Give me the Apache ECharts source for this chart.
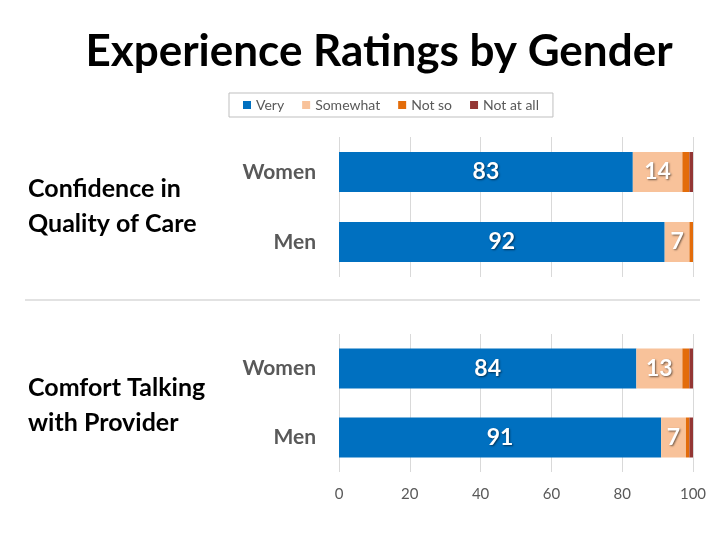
<!DOCTYPE html>
<html><head><meta charset="utf-8">
<script src="https://cdn.jsdelivr.net/npm/echarts@6/dist/echarts.min.js"></script>
<style>html,body{margin:0;padding:0;background:#fff}#c{width:720px;height:540px}</style>
</head><body><div id="c"></div>
<script>
const categories = ['Women', 'Men'];
const seriesNames = ['Very', 'Somewhat', 'Not so', 'Not at all'];
const confVery = [83, 92];
const confSomewhat = [14, 7];
const confNotSo = [2, 1];
const confNotAtAll = [1, 0];
const comfVery = [84, 91];
const comfSomewhat = [13, 7];
const comfNotSo = [2, 1];
const comfNotAtAll = [1, 1];
const xTicks = [0, 20, 40, 60, 80, 100];
const colors = ['#0070C0', '#F8C29A', '#E36C0A', '#943634'];

const font = 'Lato, "Open Sans", sans-serif';
const chart = echarts.init(document.getElementById('c'));
const groups = [[confVery, confSomewhat, confNotSo, confNotAtAll], [comfVery, comfSomewhat, comfNotSo, comfNotAtAll]];
const series = [];
groups.forEach((g, gi) => {
  g.forEach((arr, si) => {
    series.push({
      name: seriesNames[si], type: 'bar', stack: 'g' + gi,
      xAxisIndex: gi, yAxisIndex: gi, barWidth: 40,
      itemStyle: { color: colors[si] },
      data: arr,
      label: {
        show: si < 2, position: 'inside', color: '#fff', fontWeight: 'bold',
        fontSize: 23, fontFamily: font,
        textShadowColor: 'rgba(0,0,0,0.55)', textShadowBlur: 2, textShadowOffsetX: 1, textShadowOffsetY: 1
      }
    });
  });
});
const xAxisBase = (gi, show) => ({
  type: 'value', gridIndex: gi, min: xTicks[0], max: xTicks[xTicks.length - 1], interval: xTicks[1] - xTicks[0],
  axisLine: { show: false }, axisTick: { show: false },
  splitLine: { show: true, lineStyle: { color: '#d9d9d9', width: 1 } },
  axisLabel: { show: show, color: '#595959', fontSize: 15, fontFamily: font, margin: 15 }
});
const yAxisBase = (gi) => ({
  type: 'category', gridIndex: gi, data: categories, inverse: true,
  axisLine: { show: false }, axisTick: { show: false },
  axisLabel: { color: '#595959', fontSize: 21, fontWeight: 'bold', fontFamily: font, margin: 23 }
});
chart.setOption({
  animation: false,
  title: [
    { text: 'Experience Ratings by Gender', left: 374, top: 25, textAlign: 'center',
      textStyle: { fontSize: 44, fontWeight: 'bold', color: '#000', fontFamily: font } },
    { text: 'Confidence in\nQuality of Care', left: 23, top: 166,
      textStyle: { fontSize: 25, fontWeight: 'bold', color: '#000', fontFamily: font, lineHeight: 35 } },
    { text: 'Comfort Talking\nwith Provider', left: 23, top: 365,
      textStyle: { fontSize: 25, fontWeight: 'bold', color: '#000', fontFamily: font, lineHeight: 35 } }
  ],
  legend: {
    data: seriesNames, left: 229, top: 93, width: 327,
    itemWidth: 8, itemHeight: 8, itemGap: 18, icon: 'rect',
    borderColor: '#bfbfbf', borderWidth: 1, padding: [5, 14],
    textStyle: { color: '#595959', fontSize: 14, fontFamily: font }
  },
  grid: [
    { left: 339, right: 27, top: 137, height: 140 },
    { left: 339, right: 27, top: 334, height: 138 }
  ],
  xAxis: [xAxisBase(0, false), xAxisBase(1, true)],
  yAxis: [yAxisBase(0), yAxisBase(1)],
  graphic: [{ type: 'line', shape: { x1: 25, y1: 300, x2: 700, y2: 300 }, style: { stroke: '#d9d9d9', lineWidth: 1.5 } }],
  series: series
});
</script></body></html>
